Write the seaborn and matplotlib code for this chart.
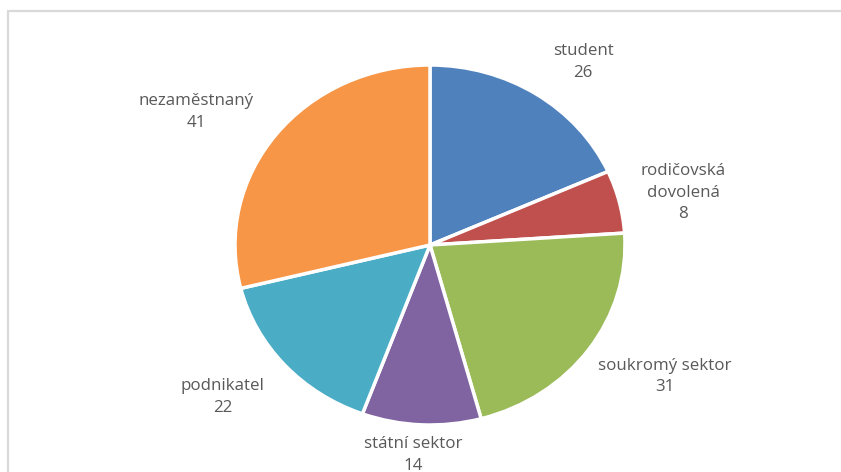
import numpy as np
import seaborn as sns
import matplotlib
matplotlib.use("Agg")
import matplotlib.pyplot as plt
from matplotlib.lines import Line2D

categories = ["student", "rodičovská\ndovolená", "soukromý sektor",
              "státní sektor", "podnikatel", "nezaměstnaný"]
values = [26, 8, 31, 14, 22, 41]
colors = ["#4F81BD", "#C0504D", "#9BBB59", "#8064A2", "#4BACC6", "#F79646"]

# label distance from centre (in radii) and angular nudge (deg), Excel "best fit" style
label_dist = [1.285, 1.33, 1.41, 1.17, 1.36, 1.41]
label_nudge = [-4.7, -1.3, 4.3, -1.8, -3.4, 6.4]

sns.set_theme(style="white")
plt.rcParams['font.family'] = ['Open Sans', 'DejaVu Sans']

W, H = 841, 472
fig = plt.figure(figsize=(W / 100, H / 100), dpi=100)
ax = fig.add_axes([0, 0, 1, 1])

# pie is slightly wider than tall in the reference
rx, ry = 195, 180
cx, cy = 430, H - 245
sy = ry / rx

wedges, _ = ax.pie(values, colors=colors, startangle=90, counterclock=False,
                   radius=rx, center=(cx, cy / sy),
                   wedgeprops=dict(edgecolor="white", linewidth=2.5))
ax.set_aspect('auto')
ax.set_xlim(0, W)
ax.set_ylim(0, H / sy)
ax.axis('off')

for w, cat, v, d, n in zip(wedges, categories, values, label_dist, label_nudge):
    ang = np.deg2rad((w.theta1 + w.theta2) / 2 + n)
    x = cx + d * rx * np.cos(ang)
    y = cy / sy + d * rx * np.sin(ang)
    ax.text(x, y, f"{cat}\n{v}", ha="center", va="center", fontsize=12.2,
            color="#595959", linespacing=1.45)

# chart border (light gray), clipped by the image on the right and bottom
fig.add_artist(Line2D([7.5 / W, 7.5 / W], [0, 1 - 10.5 / H], color="#D9D9D9", lw=1.6))
fig.add_artist(Line2D([7.5 / W, 1], [1 - 10.5 / H, 1 - 10.5 / H], color="#D9D9D9", lw=1.6))

fig.savefig("out.png", dpi=100, facecolor="white")
